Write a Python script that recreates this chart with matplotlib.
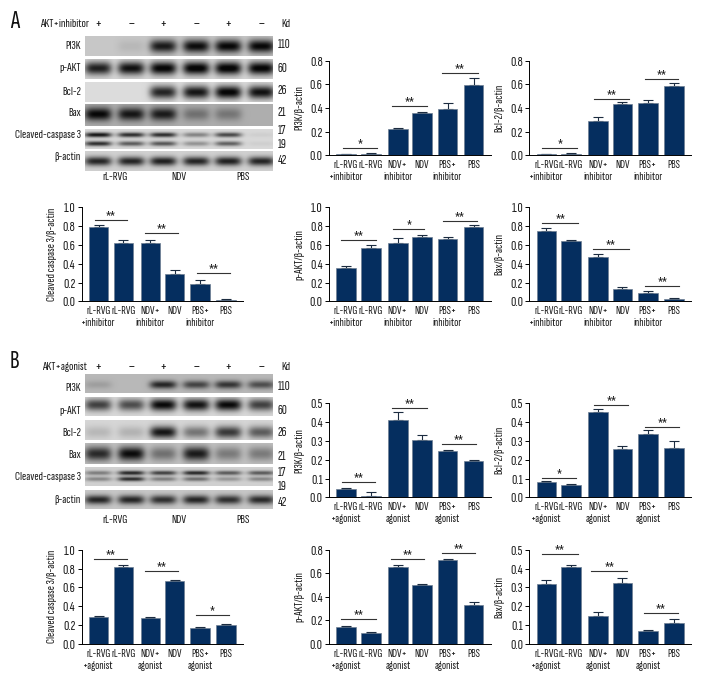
import numpy as np
import matplotlib
matplotlib.use('Agg')
import matplotlib.pyplot as plt

plt.rcParams['font.family'] = ['Sofia Sans Extra Condensed', 'Fira Sans Extra Condensed', 'PT Sans Narrow', 'Liberation Sans', 'DejaVu Sans']
plt.rcParams['font.size'] = 9.3

W, H = 710, 690
NAVY = '#052e5f'
TEXT = '#1a1a1a'
SYMBOL_FONT = ['Fira Sans Extra Condensed', 'PT Sans Narrow', 'Liberation Sans', 'DejaVu Sans']

# Bar chart labels
labels_inh = ['rL-RVG\n+inhibitor', 'rL-RVG', 'NDV+\ninhibitor', 'NDV', 'PBS+\ninhibitor', 'PBS']
labels_ago = ['rL-RVG\n+agonist', 'rL-RVG', 'NDV+\nagonist', 'NDV', 'PBS+\nagonist', 'PBS']

# Bar values and top of the error bars, panel A
a_pi3k = [0.008, 0.015, 0.225, 0.355, 0.39, 0.595]
a_pi3k_top = [0.012, 0.022, 0.235, 0.37, 0.44, 0.65]
a_bcl2 = [0.008, 0.012, 0.287, 0.431, 0.443, 0.585]
a_bcl2_top = [0.01, 0.02, 0.321, 0.448, 0.465, 0.608]
a_casp = [0.787, 0.624, 0.624, 0.294, 0.188, 0.014]
a_casp_top = [0.809, 0.649, 0.649, 0.333, 0.23, 0.02]
a_pakt = [0.355, 0.564, 0.62, 0.688, 0.66, 0.787]
a_pakt_top = [0.372, 0.603, 0.67, 0.702, 0.688, 0.809]
a_bax = [0.748, 0.642, 0.468, 0.131, 0.092, 0.021]
a_bax_top = [0.784, 0.652, 0.5, 0.149, 0.106, 0.032]

# Bar values and top of the error bars, panel B
b_pi3k = [0.043, 0.007, 0.413, 0.307, 0.245, 0.193]
b_pi3k_top = [0.05, 0.027, 0.456, 0.33, 0.25, 0.199]
b_bcl2 = [0.083, 0.064, 0.454, 0.255, 0.335, 0.264]
b_bcl2_top = [0.087, 0.073, 0.472, 0.273, 0.356, 0.301]
b_casp = [0.287, 0.816, 0.277, 0.663, 0.167, 0.195]
b_casp_top = [0.29, 0.833, 0.28, 0.674, 0.177, 0.206]
b_pakt = [0.139, 0.094, 0.655, 0.496, 0.712, 0.326]
b_pakt_top = [0.15, 0.099, 0.667, 0.505, 0.718, 0.352]
b_bax = [0.319, 0.41, 0.145, 0.323, 0.067, 0.108]
b_bax_top = [0.337, 0.42, 0.167, 0.349, 0.073, 0.129]

# Significance lines: x start, x end, height, stars
a_pi3k_sig = [(-0.13, 1.25, 0.065, '*'), (1.85, 3.24, 0.414, '**'), (3.85, 5.28, 0.693, '**')]
a_bcl2_sig = [(-0.16, 1.23, 0.059, '*'), (1.92, 3.29, 0.479, '**'), (3.93, 5.28, 0.648, '**')]
a_casp_sig = [(-0.16, 1.15, 0.862, '**'), (1.84, 3.16, 0.723, '**'), (3.93, 5.25, 0.298, '**')]
a_pakt_sig = [(-0.19, 1.2, 0.656, '**'), (1.89, 3.13, 0.766, '*'), (3.89, 5.23, 0.851, '**')]
a_bax_sig = [(-0.16, 1.27, 0.837, '**'), (1.87, 3.31, 0.553, '**'), (3.96, 5.32, 0.163, '**')]
b_pi3k_sig = [(-0.17, 1.15, 0.083, '**'), (1.85, 3.24, 0.477, '**'), (3.85, 5.2, 0.282, '**')]
b_bcl2_sig = [(-0.19, 1.2, 0.101, '*'), (1.91, 3.28, 0.489, '**'), (3.96, 5.32, 0.374, '**')]
b_casp_sig = [(-0.17, 1.15, 0.904, '**'), (1.87, 3.19, 0.773, '**'), (3.88, 5.23, 0.301, '*')]
b_pakt_sig = [(-0.2, 1.2, 0.207, '**'), (1.8, 3.13, 0.72, '**'), (3.83, 5.16, 0.769, '**')]
b_bax_sig = [(-0.19, 1.25, 0.475, '**'), (1.8, 3.24, 0.388, '**'), (3.91, 5.27, 0.161, '**')]

# Blot band strength per lane (0 = no band)
a_blot_pi3k = [0.0, 0.06, 0.68, 0.74, 0.76, 0.76]
a_blot_pakt = [0.72, 0.78, 0.84, 0.86, 0.86, 0.84]
a_blot_bcl2 = [0.0, 0.0, 0.72, 0.78, 0.86, 0.8]
a_blot_bax = [0.66, 0.6, 0.58, 0.24, 0.22, 0.0]
a_blot_casp_hi = [0.78, 0.68, 0.68, 0.34, 0.58, 0.04]
a_blot_casp_lo = [0.68, 0.5, 0.52, 0.28, 0.48, 0.04]
a_blot_actin = [0.68, 0.68, 0.7, 0.68, 0.7, 0.68]
b_blot_pi3k = [0.1, 0.0, 0.58, 0.46, 0.52, 0.42]
b_blot_pakt = [0.6, 0.55, 0.82, 0.78, 0.82, 0.6]
b_blot_bcl2 = [0.12, 0.14, 0.76, 0.38, 0.62, 0.48]
b_blot_bax = [0.6, 0.72, 0.32, 0.66, 0.28, 0.28]
b_blot_casp_hi = [0.34, 0.68, 0.58, 0.68, 0.48, 0.48]
b_blot_casp_lo = [0.3, 0.66, 0.34, 0.4, 0.24, 0.3]
b_blot_actin = [0.64, 0.64, 0.6, 0.64, 0.6, 0.62]

row_names = ['PI3K', 'p-AKT', 'Bcl-2', 'Bax', 'Cleaved-caspase 3', 'β-actin']
kd_labels = ['110', '60', '26', '21', '17', '19', '42']
signs = ['+', '–', '+', '–', '+', '–']
groups = ['rL-RVG', 'NDV', 'PBS']

# Layout, in pixels of the target image
bar_x = np.array([0, 0.99, 2.07, 3.04, 4.06, 5.1])
lane_x = [98, 131, 163, 196, 228, 261]
group_x = [115, 179, 243]
blot_left, blot_right = 85, 273

fig = plt.figure(figsize=(W / 100, H / 100), dpi=100)
page = fig.add_axes([0, 0, 1, 1])
page.set_xlim(0, W)
page.set_ylim(H, 0)
page.axis('off')


def draw_chart(x0, y_zero, y_top, ymax, step, vals, tops, sig, labels, ylabel):
    ax = fig.add_axes([x0 / W, 1 - y_zero / H, 161.5 / W, (y_zero - y_top) / H])
    ax.bar(bar_x, vals, width=0.78, color=NAVY, edgecolor='#6f7f92', linewidth=0.5, zorder=2)
    ax.errorbar(bar_x, vals, yerr=[np.zeros(6), np.array(tops) - np.array(vals)], fmt='none',
                ecolor='#1c2c40', elinewidth=0.8, capsize=3.4, capthick=0.8, zorder=1)
    for start, end, y, stars in sig:
        ax.plot([start, end], [y, y], color='#333333', lw=0.8, clip_on=False)
        ax.text((start + end) / 2, y - ymax * 0.03, stars, ha='center', va='bottom',
                fontsize=9.5, color=TEXT, clip_on=False, family=SYMBOL_FONT)
    ax.set_xlim(-0.68, 5.78)
    ax.set_ylim(0, ymax)
    ax.set_yticks(np.arange(0, ymax + 0.001, step))
    ax.set_yticklabels(['%.1f' % t for t in np.arange(0, ymax + 0.001, step)])
    ax.set_xticks(bar_x)
    ax.set_xticklabels(labels, linespacing=1.25)
    ax.tick_params(axis='x', length=0, pad=3.5, labelcolor=TEXT, labelsize=8.9)
    ax.tick_params(axis='y', length=3, width=0.7, pad=1.5, labelcolor=TEXT, labelsize=10.5)
    ax.set_ylabel(ylabel, color=TEXT)
    ax.yaxis.set_label_coords(-0.155, 0.5)
    ax.spines['top'].set_visible(False)
    ax.spines['right'].set_visible(False)
    ax.spines['left'].set_linewidth(0.7)
    ax.spines['bottom'].set_linewidth(0.7)
    ax.patch.set_alpha(0)


def draw_band_row(y0, y1, bg, bands, half_h):
    # bands: list of (strength per lane, vertical centre as a fraction of the row)
    xs = np.arange(blot_left, blot_right, 0.5)
    ys = np.arange(y0, y1, 0.5)
    xx, yy = np.meshgrid(xs, ys)
    img = np.full(xx.shape, bg, dtype=float)
    for strength, frac in bands:
        cy = y0 + frac * (y1 - y0)
        for lane, s in zip(lane_x, strength):
            img -= s * np.exp(-((xx - lane) / 13.5) ** 4 - ((yy - cy) / half_h) ** 2)
    page.imshow(np.clip(img, 0.03, 1), cmap='gray', vmin=0, vmax=1, aspect='auto',
                extent=[blot_left, blot_right, y1, y0], interpolation='bilinear')


def draw_blot_text(letter, letter_y, treat, treat_x, head_y, row_y, kd_y, group_y):
    page.text(10, letter_y, letter, fontsize=19, va='center', ha='left', color='#111111')
    page.text(treat_x, head_y, treat, ha='right', va='center', color=TEXT)
    for lane, s in zip(lane_x, signs):
        page.text(lane, head_y, s, ha='center', va='center', color=TEXT, fontsize=9.5, family=SYMBOL_FONT)
    page.text(281, head_y, 'Kd', ha='left', va='center', color=TEXT)
    for name, y in zip(row_names, row_y):
        page.text(81, y, name, ha='right', va='center', color=TEXT)
    for kd, y in zip(kd_labels, kd_y):
        page.text(278, y, kd, ha='left', va='center', color=TEXT, fontsize=10)
    for g, x in zip(groups, group_x):
        page.text(x, group_y, g, ha='center', va='center', color=TEXT)


# Panel A blots
draw_band_row(36, 56, 0.78, [(a_blot_pi3k, 0.5)], 6.5)
draw_band_row(59, 79, 0.84, [(a_blot_pakt, 0.45)], 6.5)
draw_band_row(82, 102, 0.86, [(a_blot_bcl2, 0.5)], 6.5)
draw_band_row(104, 126, 0.68, [(a_blot_bax, 0.45)], 6.5)
draw_band_row(129, 149, 0.85, [(a_blot_casp_hi, 0.28), (a_blot_casp_lo, 0.72)], 2.4)
draw_band_row(151, 171, 0.82, [(a_blot_actin, 0.5)], 4.5)

# Panel B blots
draw_band_row(374, 393, 0.72, [(b_blot_pi3k, 0.55)], 4)
draw_band_row(397, 416, 0.85, [(b_blot_pakt, 0.4)], 6)
draw_band_row(420, 440, 0.84, [(b_blot_bcl2, 0.6)], 6)
draw_band_row(443, 464, 0.76, [(b_blot_bax, 0.5)], 7)
draw_band_row(467, 486, 0.82, [(b_blot_casp_hi, 0.3), (b_blot_casp_lo, 0.62)], 2.2)
draw_band_row(490, 509, 0.78, [(b_blot_actin, 0.5)], 4.5)
page.set_xlim(0, W)
page.set_ylim(H, 0)

draw_blot_text('A', 22, 'AKT+inhibitor', 89, 24, [46, 68, 92, 113, 135, 157],
               [44, 68, 90, 113, 131, 145, 160], 177)
draw_blot_text('B', 361, 'AKT+agonist', 87, 367, [388, 411, 433, 455, 477, 500],
               [386, 411, 432, 456, 473, 487, 503], 520)

# Panel A charts
draw_chart(329, 155.3, 60.7, 0.8, 0.2, a_pi3k, a_pi3k_top, a_pi3k_sig, labels_inh, 'PI3K/β-actin')
draw_chart(529.3, 155.3, 60.7, 0.8, 0.2, a_bcl2, a_bcl2_top, a_bcl2_sig, labels_inh, 'Bcl-2/β-actin')
draw_chart(81.7, 301.3, 207.3, 1.0, 0.2, a_casp, a_casp_top, a_casp_sig, labels_inh, 'Cleaved caspase 3/β-actin')
draw_chart(329, 301.3, 207.3, 1.0, 0.2, a_pakt, a_pakt_top, a_pakt_sig, labels_inh, 'p-AKT/β-actin')
draw_chart(529.3, 301.3, 207.3, 1.0, 0.2, a_bax, a_bax_top, a_bax_sig, labels_inh, 'Bax/β-actin')

# Panel B charts
draw_chart(329, 497.3, 403.3, 0.5, 0.1, b_pi3k, b_pi3k_top, b_pi3k_sig, labels_ago, 'PI3K/β-actin')
draw_chart(529.3, 497.3, 403.3, 0.5, 0.1, b_bcl2, b_bcl2_top, b_bcl2_sig, labels_ago, 'Bcl-2/β-actin')
draw_chart(81.7, 643.7, 549.7, 1.0, 0.2, b_casp, b_casp_top, b_casp_sig, labels_ago, 'Cleaved caspase 3/β-actin')
draw_chart(329, 643.7, 549.7, 0.8, 0.2, b_pakt, b_pakt_top, b_pakt_sig, labels_ago, 'p-AKT/β-actin')
draw_chart(529.3, 643.7, 549.7, 0.5, 0.1, b_bax, b_bax_top, b_bax_sig, labels_ago, 'Bax/β-actin')

fig.savefig('out.png', dpi=100)
